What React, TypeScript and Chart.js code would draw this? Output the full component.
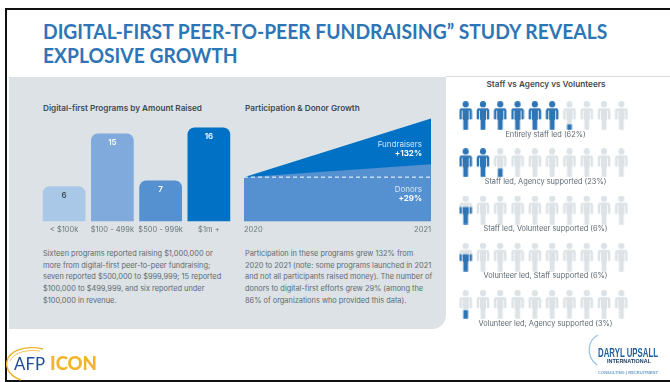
import React, { useEffect, useRef } from "react";
import { Chart, registerables } from "chart.js";

Chart.register(...registerables);

const titleLines = ["DIGITAL-FIRST PEER-TO-PEER FUNDRAISING” STUDY REVEALS", "EXPLOSIVE GROWTH"];

const amountCategories = ["< $100k", "$100 - 499k", "$500 - 999k", "$1m +"];
const amountValues = [6, 15, 7, 16];
const amountColors = ["#a9c8e8", "#7faadb", "#5590d0", "#0071c5"];
const amountLabelColors = ["#3f4a52", "#ffffff", "#ffffff", "#ffffff"];

const growthYears = ["2020", "2021"];
const fundraiserIndex = [100, 232];
const donorIndex = [100, 129];
const baselineIndex = [100, 100];

const staffingLabels = [
  "Entirely staff led (62%)",
  "Staff led, Agency supported (23%)",
  "Staff led, Volunteer supported (6%)",
  "Volunteer led, Staff supported (6%)",
  "Volunteer led, Agency supported (3%)",
];
const staffingShares = [62, 23, 6, 6, 3];
const peoplePerRow = [1, 2, 3, 4, 5, 6, 7, 8, 9, 10];

const amountText = [
  "Sixteen programs reported raising $1,000,000 or",
  "more from digital-first peer-to-peer fundraising;",
  "seven reported $500,000 to $999,999; 15 reported",
  "$100,000 to $499,999, and six reported under",
  "$100,000 in revenue.",
];
const growthText = [
  "Participation in these programs grew 132% from",
  "2020 to 2021 (note: some programs launched in 2021",
  "and not all participants raised money). The number of",
  "donors to digital-first efforts grew 29% (among the",
  "86% of organizations who provided this data).",
];

const INTER = "Inter, 'Noto Sans', sans-serif";
const SLATE = "#3f4a52";
const PROSE = "#5e6a72";
const ICON_GREY = "#dce2e5";
const ICON_BLUE = "#2e75b6";

// Silhouette of one person, filled with blue from the feet up by `fraction`.
function personIcon(fraction: number): HTMLCanvasElement {
  const c = document.createElement("canvas");
  c.width = 14;
  c.height = 29;
  const ctx = c.getContext("2d")!;
  const shape = (color: string) => {
    ctx.fillStyle = color;
    ctx.beginPath();
    ctx.arc(7, 3.2, 3.1, 0, Math.PI * 2);
    ctx.fill();
    ctx.beginPath();
    ctx.roundRect(0.7, 7.2, 2.5, 11, [2.4, 0, 0.5, 0.5]);
    ctx.roundRect(10.8, 7.2, 2.5, 11, [0, 2.4, 0.5, 0.5]);
    ctx.fill();
    ctx.beginPath();
    ctx.rect(2.4, 7.2, 9.2, 2.2);
    ctx.rect(4, 7.2, 6, 11.5);
    ctx.rect(4.6, 18, 4.8, 10.8);
    ctx.fill();
  };
  shape(ICON_GREY);
  if (fraction > 0) {
    ctx.save();
    ctx.beginPath();
    ctx.rect(0, 29 - 29 * fraction, 14, 29 * fraction);
    ctx.clip();
    ctx.clearRect(0, 0, 14, 29);
    shape(ICON_BLUE);
    ctx.restore();
  }
  return c;
}

const sharedOptions = {
  responsive: false,
  animation: false as const,
  devicePixelRatio: 1,
  plugins: { legend: { display: false }, tooltip: { enabled: false } },
};

function useChart(build: (canvas: HTMLCanvasElement) => Chart) {
  const ref = useRef<HTMLCanvasElement>(null);
  useEffect(() => {
    const chart = build(ref.current!);
    return () => chart.destroy();
  }, []);
  return ref;
}

function AmountChart() {
  const ref = useChart(
    (canvas) =>
      new Chart(canvas, {
        type: "bar",
        data: {
          labels: amountCategories,
          datasets: [
            {
              data: amountValues,
              backgroundColor: amountColors,
              borderRadius: { topLeft: 7, topRight: 7, bottomLeft: 0, bottomRight: 0 },
              borderSkipped: false,
              barPercentage: 0.885,
              categoryPercentage: 1,
            },
          ],
        },
        options: {
          ...sharedOptions,
          layout: { autoPadding: false, padding: { top: 0.75, left: 0, right: 0, bottom: 0 } },
          scales: {
            x: {
              grid: { display: false, drawTicks: false },
              border: { display: false },
              ticks: { color: "#6d777e", font: { family: INTER, size: 7.5 }, padding: 3.3, maxRotation: 0, autoSkip: false },
              afterFit: (s: any) => {
                s.height = 20.5;
              },
            },
            y: { display: false, min: 0, max: 18 },
          },
        },
        plugins: [
          {
            id: "barValues",
            afterDatasetsDraw(chart: Chart) {
              const { ctx } = chart;
              const bars = chart.getDatasetMeta(0).data;
              ctx.save();
              ctx.font = `600 8px ${INTER}`;
              ctx.textAlign = "center";
              ctx.textBaseline = "middle";
              bars.forEach((bar: any, i: number) => {
                ctx.fillStyle = amountLabelColors[i];
                ctx.fillText(String(amountValues[i]), bar.x, bar.y + 9);
              });
              ctx.restore();
            },
          },
        ],
      } as any)
  );
  return <canvas ref={ref} width={193} height={127} style={{ position: "absolute", left: 40, top: 115 }} />;
}

function GrowthChart() {
  const ref = useChart(
    (canvas) =>
      new Chart(canvas, {
        type: "line",
        data: {
          labels: growthYears,
          datasets: [
            { data: baselineIndex, borderColor: "#ffffff", borderWidth: 1, borderDash: [4, 3], pointRadius: 0, fill: false, order: 0 },
            { data: donorIndex, backgroundColor: "#5590d0", borderWidth: 0, pointRadius: 0, fill: "origin", order: 1 },
            { data: fundraiserIndex, backgroundColor: "#0071c5", borderWidth: 0, pointRadius: 0, fill: "origin", order: 2 },
          ],
        },
        options: {
          ...sharedOptions,
          layout: { autoPadding: false, padding: 0 },
          scales: {
            x: {
              offset: false,
              grid: { display: false, drawTicks: false },
              border: { display: false },
              ticks: { color: "#6d777e", font: { family: INTER, size: 7.5 }, padding: 3.3, align: "inner", maxRotation: 0 },
              afterFit: (s: any) => {
                s.height = 20.5;
                s.paddingLeft = 0;
                s.paddingRight = 0;
              },
            },
            y: { display: false, min: 0, max: 240 },
          },
        },
        plugins: [
          {
            id: "growthNotes",
            afterDatasetsDraw(chart: Chart) {
              const { ctx, scales } = chart;
              const right = scales.x.right - 9;
              const note = (name: string, value: string, y: number) => {
                ctx.textAlign = "right";
                ctx.textBaseline = "middle";
                ctx.font = `400 8px ${INTER}`;
                ctx.fillStyle = "#d6e4f3";
                ctx.fillText(name, right, y);
                ctx.font = `700 8px ${INTER}`;
                ctx.fillStyle = "#ffffff";
                ctx.fillText(value, right, y + 9);
              };
              ctx.save();
              note("Fundraisers", "+132%", scales.y.getPixelForValue(174));
              note("Donors", "+29%", scales.y.getPixelForValue(73));
              ctx.restore();
            },
          },
        ],
      } as any)
  );
  return <canvas ref={ref} width={187} height={127} style={{ position: "absolute", left: 244, top: 115 }} />;
}

function StaffingChart() {
  const ref = useChart((canvas) => {
    const rows = staffingShares.map((share, row) => ({
      data: peoplePerRow.map((person) => ({ x: person, y: row })),
      pointStyle: peoplePerRow.map((person) =>
        personIcon(Math.min(1, Math.max(0, (share - (person - 1) * 10) / 10)))
      ),
      pointRadius: 6,
      showLine: false,
      clip: false,
    }));
    return new Chart(canvas, {
      type: "scatter",
      data: { datasets: rows },
      options: {
        ...sharedOptions,
        layout: { autoPadding: false, padding: 0 },
        scales: {
          x: { display: false, min: 0.5, max: 10.5 },
          y: { display: false, min: -0.5, max: 4.5, reverse: true },
        },
      },
      plugins: [
        {
          id: "rowCaptions",
          afterDatasetsDraw(chart: Chart) {
            const { ctx, scales, chartArea } = chart;
            ctx.save();
            ctx.font = `400 7.4px ${INTER}`;
            ctx.fillStyle = "#5e6a72";
            ctx.textAlign = "center";
            ctx.textBaseline = "middle";
            staffingLabels.forEach((label, row) => {
              ctx.fillText(label, (chartArea.left + chartArea.right) / 2 + 2, scales.y.getPixelForValue(row) + 19);
            });
            ctx.restore();
          },
        },
      ],
    } as any);
  });
  return <canvas ref={ref} width={173} height={236} style={{ position: "absolute", left: 457, top: 92 }} />;
}

function Prose({ lines, left, top }: { lines: string[]; left: number; top: number }) {
  return (
    <div style={{ position: "absolute", left, top, font: `400 7.4px/11.7px ${INTER}`, color: PROSE, whiteSpace: "nowrap" }}>
      {lines.map((l) => (
        <div key={l}>{l}</div>
      ))}
    </div>
  );
}

function Heading({ text, left, top, width }: { text: string; left: number; top: number; width?: number }) {
  return (
    <div
      style={{
        position: "absolute",
        left,
        top,
        width,
        textAlign: width ? "center" : "left",
        font: `600 8.2px/12px ${INTER}`,
        color: SLATE,
        whiteSpace: "nowrap",
      }}
    >
      {text}
    </div>
  );
}

function Logos() {
  return (
    <svg width={670} height={382} style={{ position: "absolute", left: 0, top: 0 }}>
      <g fill="none" stroke="#eeb32f">
        <path d="M43 349 C26 345 10 350 7 361 C5 370 12 377 21 380" strokeWidth={1.4} />
        <path d="M40 351 C26 349 13 353 10 361" strokeWidth={0.8} />
      </g>
      <text x={14} y={370} textLength={31} lengthAdjust="spacingAndGlyphs" fontFamily="Lato, sans-serif" fontSize={18} fill="#1f4e96">
        AFP
      </text>
      <text x={50} y={370} textLength={47} lengthAdjust="spacingAndGlyphs" fontFamily="Lato, sans-serif" fontWeight={900} fontSize={18} fill="#f3b42c">
        ICON
      </text>
      <path d="M598 335 C588 340 585 356 597 365" fill="none" stroke="#8fc3e6" strokeWidth={1.2} />
      <text x={598} y={357} textLength={60} lengthAdjust="spacingAndGlyphs" fontFamily="'Liberation Sans Narrow', 'Liberation Sans', sans-serif" fontWeight={700} fontSize={13} fill="#1f5f9e">
        DARYL UPSALL
      </text>
      <text x={607} y={363} textLength={44} lengthAdjust="spacingAndGlyphs" fontFamily="'Liberation Sans', sans-serif" fontWeight={700} fontSize={5} fill="#1c3d66">
        INTERNATIONAL
      </text>
      <text x={598} y={373.5} textLength={60} lengthAdjust="spacingAndGlyphs" fontFamily="'Liberation Sans', sans-serif" fontWeight={700} fontSize={3.8} fill="#6fa3cf">
        CONSULTING | RECRUITMENT
      </text>
    </svg>
  );
}

export default function App() {
  return (
    <div style={{ position: "absolute", left: 0, top: 0, width: 670, height: 382, overflow: "hidden", background: "#ffffff" }}>
      <div style={{ position: "absolute", left: 5, top: 8, width: 2, height: 373, background: "#111111" }} />
      <div style={{ position: "absolute", left: 5, top: 8, width: 665, height: 2, background: "#111111" }} />
      <div style={{ position: "absolute", left: 5, top: 379.5, width: 665, height: 2, background: "#111111" }} />

      <div
        style={{
          position: "absolute",
          left: 43,
          top: 20,
          font: "700 20.5px/23.5px Lato, sans-serif",
          color: "#2e75b6",
          whiteSpace: "nowrap",
          transform: "scaleX(0.94)",
          transformOrigin: "0 0",
        }}
      >
        {titleLines.map((l) => (
          <div key={l}>{l}</div>
        ))}
      </div>

      <div style={{ position: "absolute", left: 446, top: 76, width: 224, height: 1, background: "#d9dcdf" }} />
      <div style={{ position: "absolute", left: 9, top: 77, width: 437, height: 251.5, background: ICON_GREY, borderBottomRightRadius: 14 }} />

      <Heading text="Digital-first Programs by Amount Raised" left={43} top={102} />
      <Heading text="Participation & Donor Growth" left={245} top={102} />
      <Heading text="Staff vs Agency vs Volunteers" left={457} top={77.5} width={178} />

      <AmountChart />
      <GrowthChart />
      <StaffingChart />

      <Prose lines={amountText} left={43} top={248} />
      <Prose lines={growthText} left={245} top={248} />
      <Logos />
    </div>
  );
}
